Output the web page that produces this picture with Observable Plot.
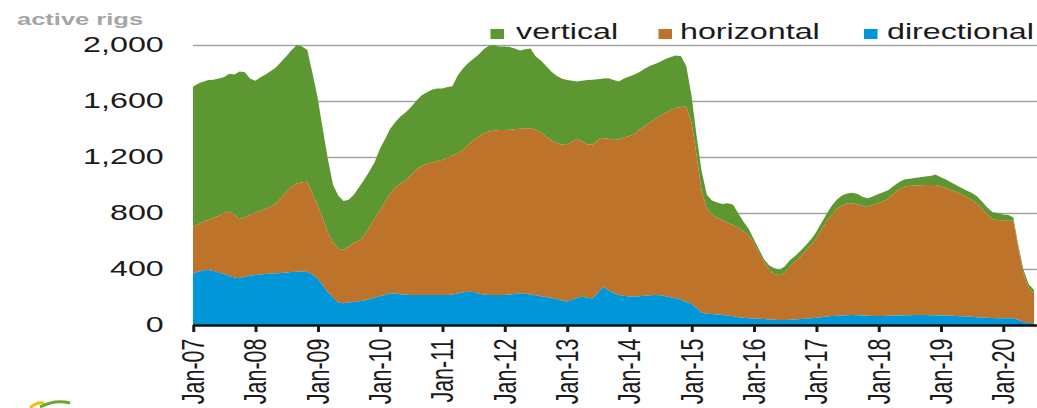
<!DOCTYPE html>
<html>
<head>
<meta charset="utf-8">
<script src="https://cdn.jsdelivr.net/npm/d3@7"></script>
<script src="https://cdn.jsdelivr.net/npm/@observablehq/plot@0.6"></script>
<style>
  body { margin: 0; background: #fff; }
  #wrap { position: relative; width: 1037px; height: 408px; overflow: hidden; background: #fff; }
  #inner { position: absolute; left: 0; top: 0; width: 691.33px; height: 408px; transform: scaleX(1.5); transform-origin: 0 0; font-family: "Liberation Sans", Arial, sans-serif; }
  #inner svg { position: absolute; left: 0; top: 0; }
  .unit { position: absolute; left: 11.3px; top: 10.6px; font-size: 17px; font-weight: bold; color: #a5a5a5; line-height: 1; white-space: nowrap; }
  .sw { position: absolute; width: 9px; height: 10px; top: 28.5px; }
  .lt { position: absolute; top: 21.8px; font-size: 21.5px; line-height: 1; color: #1a1a1a; white-space: nowrap; }
  #logo { position: absolute; left: 0; top: 395px; }
</style>
</head>
<body>
<div id="wrap"><div id="inner">
  <div class="unit">active rigs</div>
  <div class="sw" style="left:327.3px;background:#5d9732"></div>
  <div class="lt" style="left:344px">vertical</div>
  <div class="sw" style="left:439.3px;background:#bd732a"></div>
  <div class="lt" style="left:453.3px">horizontal</div>
  <div class="sw" style="left:576px;background:#0096d7"></div>
  <div class="lt" style="left:591.3px">directional</div>
</div>
<svg id="logo" width="80" height="13">
  <path d="M30,13 Q36,7 44,8" fill="none" stroke="#f2c200" stroke-width="3"/>
  <path d="M40,12 Q55,4 70,8" fill="none" stroke="#6aa631" stroke-width="3"/>
</svg>
</div>
<script>
// Monthly rig counts, Jan 2007 .. Jul 2020
const startYear = 2007;
const series = ["vertical", "horizontal", "directional"];
const seriesColors = ["#5d9732", "#bd732a", "#0096d7"];

const directional = [
  369,380,390,393,385,375,365,350,340,333,345,352,
  357,360,365,368,370,372,375,378,380,382,378,360,
  330,280,235,195,160,155,160,165,170,175,185,195,
  205,215,226,225,220,216,214,214,215,215,214,214,
  214,214,218,225,232,238,235,225,218,214,214,214,
  215,218,222,226,224,218,212,205,200,195,185,175,
  167,180,195,202,195,190,230,270,250,226,215,208,
  203,202,205,208,212,214,212,205,198,190,180,165,
  150,120,90,80,78,75,72,68,62,56,52,48,
  46,44,42,40,38,36,36,38,40,42,45,48,
  52,56,60,64,66,68,70,71,70,68,66,64,
  64,65,66,67,68,69,70,71,71,71,70,70,
  68,67,66,64,62,60,58,56,54,52,50,49,
  48,48,48,35,22,15,12
];

const horizontal = [
  333,340,350,357,380,405,435,460,450,422,425,438,
  448,455,465,477,500,538,575,612,632,638,646,580,
  520,480,425,395,385,385,400,420,435,465,515,565,
  615,665,714,755,790,819,856,896,920,935,946,956,
  966,981,992,1000,1018,1047,1085,1120,1152,1168,1174,1178,
  1178,1177,1176,1176,1181,1187,1183,1170,1145,1125,1115,1115,
  1119,1130,1135,1108,1095,1100,1090,1065,1080,1096,1110,1132,
  1147,1163,1190,1212,1233,1256,1283,1310,1337,1360,1378,1395,
  1300,1080,870,750,712,690,678,662,653,639,618,592,
  544,466,408,355,327,319,339,382,415,448,485,522,
  568,624,680,721,764,787,799,799,790,782,776,796,
  806,820,839,873,902,919,925,924,927,929,930,930,
  922,911,899,886,873,855,837,814,776,738,705,701,
  700,697,697,505,338,245,218
];

const vertical = [
  1000,1005,998,1000,987,980,970,985,1000,1055,1035,970,
  940,955,960,970,970,970,970,975,988,970,941,860,
  770,630,530,410,380,345,335,345,380,400,400,405,
  440,450,460,470,480,485,485,490,505,510,520,520,
  510,505,495,555,580,585,580,585,600,613,612,598,
  597,590,577,558,565,570,525,515,505,490,480,470,
  464,435,410,435,460,462,435,425,432,428,415,420,
  425,425,410,410,405,395,385,385,380,375,362,290,
  190,140,140,100,100,110,115,140,145,105,70,50,
  25,30,20,30,40,40,45,45,40,40,40,40,
  45,50,50,65,65,70,71,75,75,65,63,60,
  65,65,60,55,50,52,50,55,57,60,65,75,
  65,62,55,50,45,45,50,50,50,50,50,50,
  42,40,25,20,30,30,20
];

const yTicks = [0, 400, 800, 1200, 1600, 2000];
const xTickYears = [2007,2008,2009,2010,2011,2012,2013,2014,2015,2016,2017,2018,2019,2020];

const monthDate = i => new Date(Date.UTC(startYear, i, 1));
const rows = [];
const bySeries = {vertical, horizontal, directional};
for (const s of series) {
  bySeries[s].forEach((v, i) => rows.push({date: monthDate(i), type: s, rigs: v}));
}

const chart = Plot.plot({
  width: 691.33,
  height: 408,
  marginLeft: 128.67,
  marginRight: 0,
  marginTop: 45,
  marginBottom: 83,
  style: {fontFamily: '"Liberation Sans", Arial, sans-serif', background: "transparent", overflow: "visible"},
  x: {type: "utc", domain: [new Date(Date.UTC(2007, 0, 1)), new Date(Date.UTC(2020, 6, 18))], label: null},
  y: {domain: [0, 2000], label: null},
  color: {domain: series, range: seriesColors},
  marks: [
    Plot.ruleY(yTicks.filter(d => d > 0), {stroke: "#a3a3a3", strokeWidth: 1.6}),
    Plot.areaY(rows, {x: "date", y: "rigs", z: "type", fill: "type", order: ["directional", "horizontal", "vertical"], curve: "linear"}),
    Plot.ruleY([0], {stroke: "#111", strokeWidth: 2.6}),
    Plot.axisY({ticks: yTicks, tickFormat: d3.format(","), tickSize: 0, tickPadding: 20, fontSize: 21.5, color: "#1a1a1a", label: null}),
    Plot.axisX({ticks: xTickYears.map(y => new Date(Date.UTC(y, 0, 1))), tickFormat: d3.utcFormat("%b-%y"), tickRotate: -90, tickSize: 7, tickPadding: 6, fontSize: 21.5, color: "#1a1a1a", strokeWidth: 2, label: null})
  ]
});
document.getElementById("inner").appendChild(chart);
</script>
</body>
</html>
